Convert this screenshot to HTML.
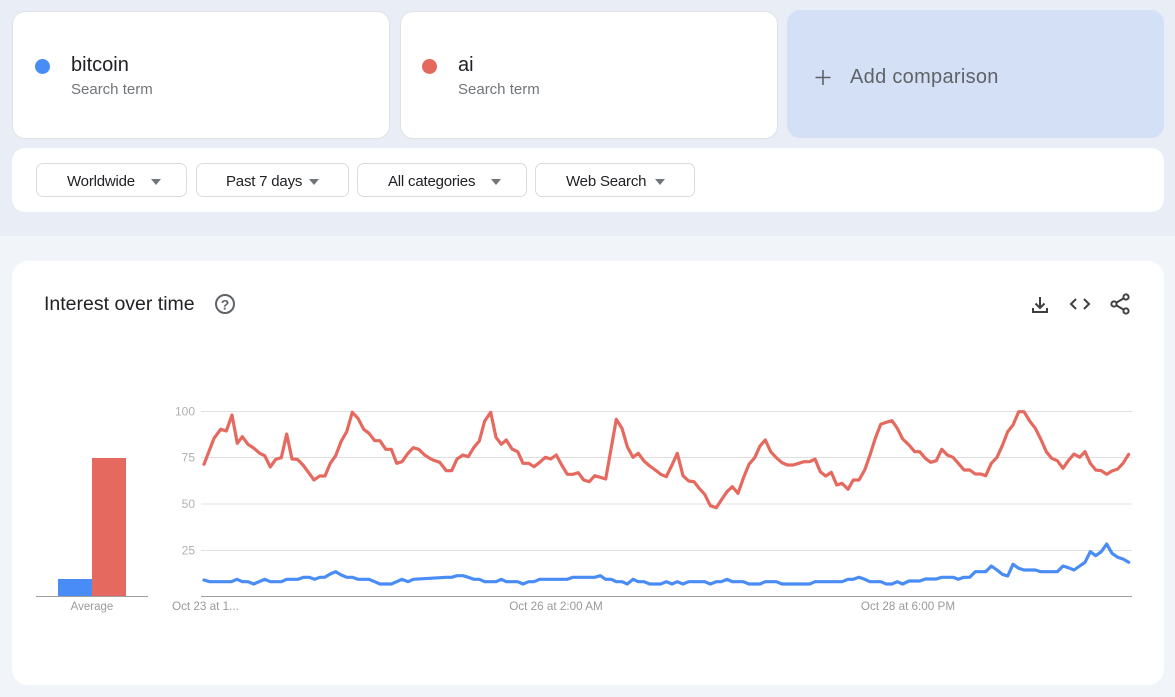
<!DOCTYPE html>
<html><head><meta charset="utf-8">
<style>
*{margin:0;padding:0;box-sizing:border-box}
html,body{width:1175px;height:697px;overflow:hidden}
body{background:#f1f4f9;font-family:"Liberation Sans",sans-serif;position:relative}
.top{position:absolute;left:0;top:0;width:1175px;height:236px;background:#e9eef6}
.card{position:absolute;background:#fff;border:1px solid #dfe1e5;border-radius:13px}
.dot{position:absolute;width:15px;height:15px;border-radius:50%}
.term{position:absolute;font-size:20px;color:#202124}
.sub{position:absolute;font-size:15px;color:#70757a}
.add{position:absolute;left:787px;top:10px;width:377px;height:128px;background:#d3e0f5;border-radius:13px}
.dd{position:absolute;top:163px;height:34px;border:1px solid #dadce0;border-radius:7px;background:#fff;font-size:15px;color:#202124;letter-spacing:-0.2px}
.dd span{position:absolute;top:9px}
.tri{position:absolute;top:15px;width:0;height:0;border-left:5px solid transparent;border-right:5px solid transparent;border-top:6px solid #70757a}
svg{position:absolute;left:0;top:0}
</style></head><body>
<div class="top"></div>
<div class="card" style="left:12px;top:11px;width:378px;height:128px"></div>
<div class="dot" style="left:35px;top:59px;background:#4a8cf5"></div>
<div class="term" style="left:71px;top:54px">bitcoin</div>
<div class="sub" style="left:71px;top:81px">Search term</div>
<div class="card" style="left:400px;top:11px;width:378px;height:128px"></div>
<div class="dot" style="left:422px;top:59px;background:#e5685e"></div>
<div class="term" style="left:458px;top:54px">ai</div>
<div class="sub" style="left:458px;top:81px">Search term</div>
<div class="add"></div>
<div style="position:absolute;left:850px;top:66px;font-size:20px;color:#5f6368;letter-spacing:0.3px">Add comparison</div>
<div style="position:absolute;left:12px;top:148px;width:1152px;height:64px;background:#fff;border-radius:13px"></div>
<div class="dd" style="left:36px;width:151px"><span style="left:30px">Worldwide</span><div class="tri" style="left:114px"></div></div>
<div class="dd" style="left:196px;width:153px"><span style="left:29px">Past 7 days</span><div class="tri" style="left:112px"></div></div>
<div class="dd" style="left:357px;width:170px"><span style="left:30px">All categories</span><div class="tri" style="left:133px"></div></div>
<div class="dd" style="left:535px;width:160px"><span style="left:30px">Web Search</span><div class="tri" style="left:119px"></div></div>
<div style="position:absolute;left:12px;top:261px;width:1152px;height:424px;background:#fff;border-radius:16px"></div>
<div style="position:absolute;left:44px;top:293px;font-size:19.5px;color:#202124">Interest over time</div>
<svg width="1175" height="697" viewBox="0 0 1175 697">
<path d="M823 70 V85 M815.5 77.5 H830.5" stroke="#5f6368" stroke-width="1.6" fill="none"/>
<circle cx="225" cy="304" r="9" fill="none" stroke="#5f6368" stroke-width="2"/>
<text x="225" y="309.5" font-size="14" font-family="Liberation Sans" font-weight="bold" fill="#5f6368" text-anchor="middle">?</text>
<g stroke="#3c4043" stroke-width="2" fill="none">
<path d="M1040 297 V308 M1035.5 303.5 L1040 308 L1044.5 303.5"/>
<path d="M1033 308 V312 H1047 V308"/>
<path d="M1076 299 L1071 304 L1076 309 M1084 299 L1089 304 L1084 309"/>
<path d="M1126 297 L1114 304 L1126 311"/>
</g>
<g fill="#fff" stroke="#3c4043" stroke-width="2">
<circle cx="1126" cy="297" r="2.6"/><circle cx="1114" cy="304" r="2.6"/><circle cx="1126" cy="311" r="2.6"/>
</g>
<g stroke="#e0e0e0" stroke-width="1">
<line x1="201" y1="411.5" x2="1132" y2="411.5"/>
<line x1="201" y1="457.5" x2="1132" y2="457.5"/>
<line x1="201" y1="504" x2="1132" y2="504"/>
<line x1="201" y1="550.5" x2="1132" y2="550.5"/>
</g>
<line x1="201" y1="596.5" x2="1132" y2="596.5" stroke="#9e9e9e" stroke-width="1"/>
<g font-family="Liberation Sans" font-size="12" fill="#b0b0b0" text-anchor="end">
<text x="195" y="415.5">100</text>
<text x="195" y="461.5">75</text>
<text x="195" y="508">50</text>
<text x="195" y="554.5">25</text>
</g>
<g font-family="Liberation Sans" font-size="11.7" fill="#9a9a9a">
<text x="172" y="610">Oct 23 at 1...</text>
<text x="556" y="610" text-anchor="middle">Oct 26 at 2:00 AM</text>
<text x="908" y="610" text-anchor="middle">Oct 28 at 6:00 PM</text>
<text x="92" y="610" text-anchor="middle" font-size="11.5">Average</text>
</g>
<rect x="58" y="579" width="34" height="17" fill="#4a8cf5"/>
<rect x="92" y="458" width="34" height="138" fill="#e5695e"/>
<line x1="36" y1="596.5" x2="148" y2="596.5" stroke="#9e9e9e" stroke-width="1"/>
<polyline fill="none" stroke="#e5695e" stroke-width="3.2" stroke-linejoin="round" stroke-linecap="round" points="204,464.3 214,438.3 220.7,429.3 226.3,431 232,415 237.3,443.3 242.3,436.7 248,444.3 254,448.3 259.7,453.3 264.7,455.7 270.3,467 275.7,459.3 281.3,457.7 286.7,434 292,459 297.3,459.3 303,465 308.7,472.7 314,480 319.7,476 325,476 330.3,463.3 335.7,455.7 341,441.7 346.7,431.7 352.3,412.3 358,418.3 363.7,429.3 369,433.3 374.7,440.7 380,440.7 385.7,449.3 391.3,449.3 396.7,463.3 402,461.7 408,453.3 413.3,447.7 418.7,449.3 424.7,455 429.7,458.3 433,460 439.7,462.3 446.3,470.7 451.7,470.7 457,459 463,455 468.3,456.7 473.7,447.7 479.3,441 484.7,421 490.7,412.3 496,437.3 501.3,444.3 506.3,440 512,449 517.7,451.7 523,463.3 528.7,463.3 534,466.7 539.7,462.3 545.3,457.3 550.7,459 556.3,455 561.7,465 567.3,474.3 573,474.3 578.3,472.7 583.7,480 589.3,481.7 594.7,475.7 600.3,477.3 605.7,479 616.3,419.3 622,428.3 627.3,446.7 633,457.3 638.3,453.3 644,461 649.7,466 655.3,470 660.7,474.3 666.3,476.7 672,465 677.3,453.3 683,475.7 688.7,481 694,481.7 699.7,489 704.7,494.3 710.3,505.7 716.3,507.7 721.3,500 727,491.7 732.3,486.7 738,493.3 743.3,478.3 749,464.3 754.7,457.7 760,446 765.3,440 770.7,451.7 776.3,457.7 782,462.7 787.3,465 793,465 798.7,463.3 804,461.7 809.7,461.7 815,459 820.3,471.7 825.7,476 831.3,472.3 836.7,485 842,483.3 848,489.3 853.3,480 859,480 864.7,470 870,455 875.3,438.3 880.7,424.3 886.3,422.3 892,420.7 897.3,428.3 902.7,439 909,445 914.7,451.7 919.7,451.7 925.3,458.3 930.7,462.3 936.3,460.7 941.7,449.3 947.3,455 953,457.3 958.3,463.3 964,470 969.7,470 975.3,474 980.7,474 985.7,475.7 991.3,463.3 997,457.3 1002.3,445.7 1007.7,431.7 1013,425 1018.7,411.7 1024,411.7 1029.7,421 1035.3,428.3 1040.7,439 1046.3,451.7 1051.7,458.3 1057.3,460.7 1063,468.3 1068.3,460.7 1074,454 1079.7,457.3 1085,451.7 1090.3,463.3 1095.7,470 1101.3,470.7 1106.7,474.3 1112,471 1117.7,469 1123,463.3 1128.7,454.3"/>
<polyline fill="none" stroke="#4a8cf5" stroke-width="3.2" stroke-linejoin="round" stroke-linecap="round" points="204,580 209.7,581.7 231.3,581.7 237,579.3 242.3,581.7 248,581.7 253.7,584 264.7,579.3 270.3,581.7 281.3,581.7 286.7,579.3 298,579.3 303.7,577.3 309,577.3 314.7,579.3 319.7,577.3 324.7,577.3 330.3,574 335.7,571.7 341.3,575 346.7,577.3 352.3,577.3 358,579.3 369,579.3 374.7,581.7 380,584 391.3,584 396.7,581.7 402,579.3 408,581.7 413.3,579.3 446.3,577.3 451.7,577.3 457,575.7 463,575.7 468.3,577.3 473.7,579.3 479.3,579.3 484.7,581.7 496,581.7 501.3,579.3 506.3,581.7 517.7,581.7 523,584 528.7,581.7 534,581.7 539.7,579.3 567.3,579.3 573,577.3 594.7,577.3 600.3,575.7 605.7,579.3 611.3,579.3 616.3,581.7 622,581.7 627.3,584 633,579.3 638.3,581.7 644,581.7 649.7,584 660.7,584 666.3,581.7 672,584 677.3,581.7 683,584 688.7,581.7 704.7,581.7 710.3,584 716.3,581.7 721.3,581.7 727,579.3 732.3,581.7 743.3,581.7 749,584 760,584 765.3,581.7 776.3,581.7 782,584 809.7,584 815,581.7 842,581.7 848,579.3 853.3,579.3 859,577.3 864.7,579.3 870,581.7 880.7,581.7 886.3,584 892,584 897.3,581.7 902.7,584 909,581 919.7,581 925.3,579 936.3,579 941.7,577.3 953,577.3 958.3,579.3 964,577.3 969.7,577.3 975.3,571.7 985.7,571.7 991.3,566 997,570 1002.3,574.3 1007.7,576 1013,564.3 1018.7,568.3 1024,570 1035.3,570 1040.7,571.7 1057.3,571.7 1063,566 1068.3,567.7 1074,570 1079.7,566 1085,562.3 1090.3,551.7 1095.7,555.7 1101.3,551.7 1106.7,544 1112,553.3 1117.7,557.3 1123,559 1128.7,562.3"/>
</svg>
</body></html>
